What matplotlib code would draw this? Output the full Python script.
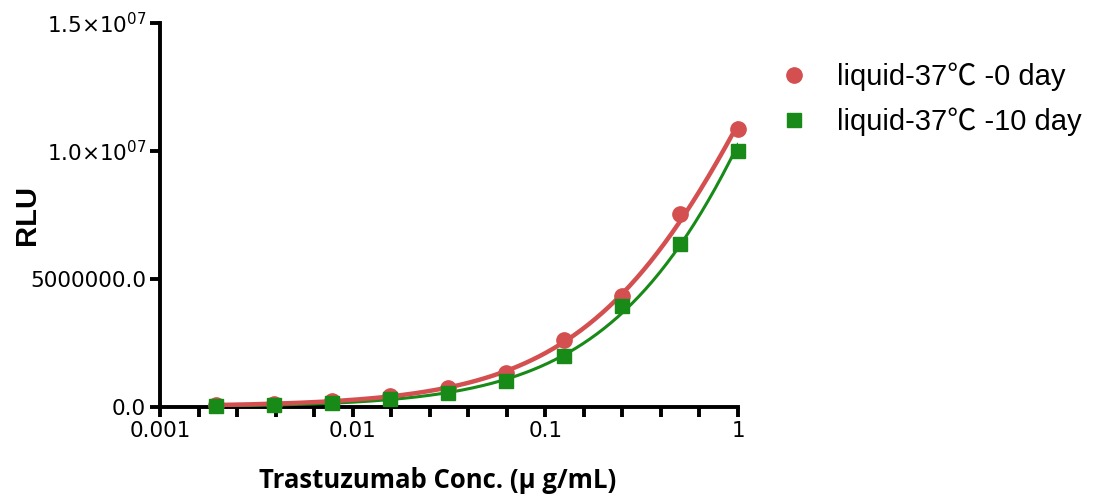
import numpy as np
import matplotlib
matplotlib.use("Agg")
import matplotlib.pyplot as plt
from matplotlib.ticker import FixedLocator, FixedFormatter, NullFormatter

# dilution series (ug/mL) and RLU
conc = [1, 0.5, 0.25, 0.125, 0.0625, 0.03125, 0.015625, 0.0078125, 0.00390625, 0.001953125]
rlu_0day = [10.85e6, 7.55e6, 4.33e6, 2.6e6, 1.34e6, 0.75e6, 0.43e6, 0.24e6, 0.12e6, 0.08e6]
rlu_10day = [10.0e6, 6.38e6, 3.94e6, 2.0e6, 1.02e6, 0.55e6, 0.30e6, 0.15e6, 0.08e6, 0.04e6]
labels = ["liquid-37\u2103 -0 day", "liquid-37\u2103 -10 day"]
ytick_vals = [0, 5e6, 1e7, 1.5e7]
ytick_labels = ["0.0", "5000000.0", "1.0\u00d710$^{07}$", "1.5\u00d710$^{07}$"]

red = "#d44f4f"
green = "#178a17"

fig = plt.figure(figsize=(11.07, 5.0), dpi=100)
ax = fig.add_axes([160 / 1107, 1 - 407 / 500, (738 - 160) / 1107, (407 - 23) / 500])


def smooth(x, y):
    # smooth fit in log-log space
    lx = np.log10(x)
    ly = np.log10(y)
    p = np.polyfit(lx, ly, 3)
    xs = np.linspace(lx.min(), lx.max(), 300)
    return 10 ** xs, 10 ** np.polyval(p, xs)


x = np.array(conc)
for y, c, lw in [(np.array(rlu_10day), green, 2.2), (np.array(rlu_0day), red, 3.2)]:
    xs, ys = smooth(x, y)
    ax.plot(xs, ys, color=c, lw=lw, zorder=3)

ax.plot(conc, rlu_0day, "o", color=red, ms=11, label=labels[0], zorder=4, clip_on=False)
ax.plot(conc, rlu_10day, "s", color=green, ms=10.5, label=labels[1], zorder=5, clip_on=False)

ax.set_xscale("log")
ax.set_xlim(0.001, 1)
ax.set_ylim(0, 1.5e7)
ax.xaxis.set_major_locator(FixedLocator([0.001, 0.01, 0.1, 1]))
ax.xaxis.set_major_formatter(FixedFormatter(["0.001", "0.01", "0.1", "1"]))
ax.xaxis.set_minor_locator(FixedLocator([10 ** (k / 5) for k in range(-15, 1) if k % 5]))
ax.xaxis.set_minor_formatter(NullFormatter())
ax.yaxis.set_major_locator(FixedLocator(ytick_vals))
ax.yaxis.set_major_formatter(FixedFormatter(ytick_labels))

for s in ["top", "right"]:
    ax.spines[s].set_visible(False)
for s in ["left", "bottom"]:
    ax.spines[s].set_linewidth(2.8)
ax.tick_params(which="major", length=7, width=2.8, labelsize=15.5, pad=3)
ax.tick_params(which="minor", length=7, width=2.8)
for t in ax.get_xticklabels() + ax.get_yticklabels():
    t.set_fontfamily("DejaVu Sans")

ax.set_ylabel("RLU", fontsize=21, fontweight="bold", family="Liberation Sans")
ax.yaxis.set_label_coords(-0.206, 0.5)
ax.set_xlabel("Trastuzumab Conc. (\u03bc g/mL)", fontsize=18.5, fontweight="bold",
              family="Open Sans")
ax.xaxis.set_label_coords(0.48, -0.155)

ax.legend(loc="upper left", bbox_to_anchor=(0.678, 0.927), bbox_transform=fig.transFigure,
          frameon=False, handletextpad=0.85, labelspacing=0.55, handlelength=1.2,
          prop={"family": ["Liberation Sans", "Noto Sans CJK SC"], "size": 21})

fig.savefig("out.png", dpi=100)
